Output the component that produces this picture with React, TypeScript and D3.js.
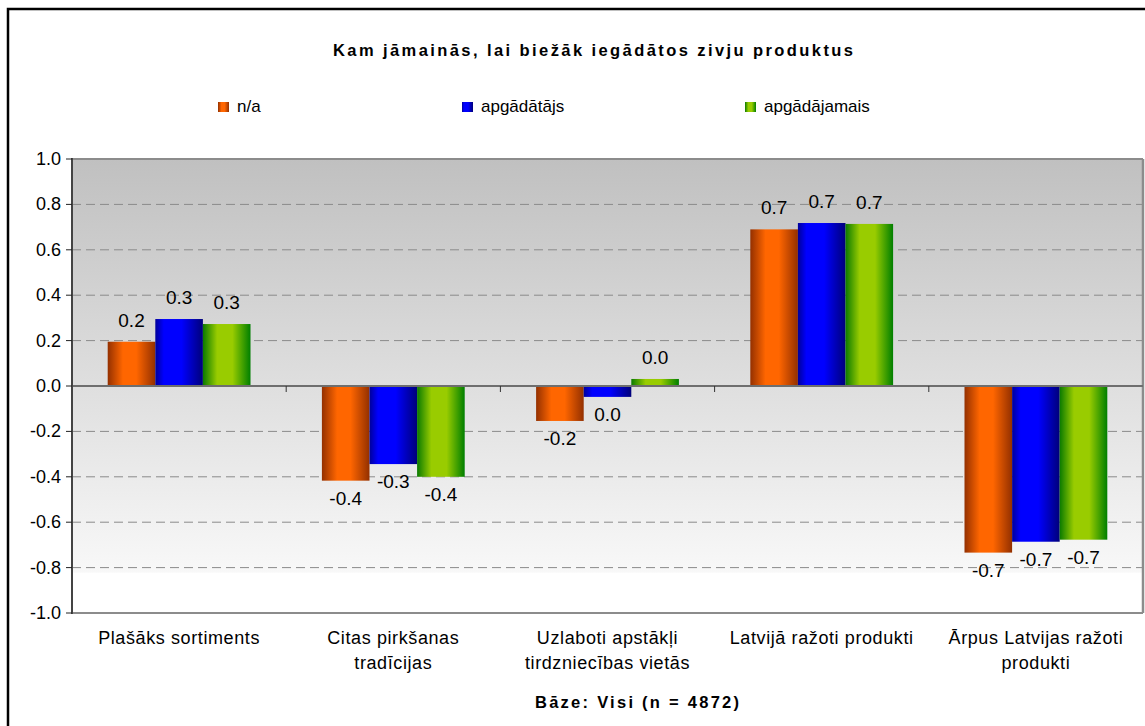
import * as d3 from 'd3';

const categories = [
  ['Plašāks sortiments'],
  ['Citas pirkšanas', 'tradīcijas'],
  ['Uzlaboti apstākļi', 'tirdzniecības vietās'],
  ['Latvijā ražoti produkti'],
  ['Ārpus Latvijas ražoti', 'produkti'],
];
const seriesNames = ['n/a', 'apgādātājs', 'apgādājamais'];
const naValues = [0.195, -0.417, -0.154, 0.69, -0.734];
const apgadatajsValues = [0.295, -0.344, -0.048, 0.718, -0.686];
const apgadajamaisValues = [0.273, -0.4, 0.031, 0.714, -0.677];
const yTicks = [-1, -0.8, -0.6, -0.4, -0.2, 0, 0.2, 0.4, 0.6, 0.8, 1];

const title = 'Kam jāmainās, lai biežāk iegādātos zivju produktus';
const baseTitle = 'Bāze: Visi (n = 4872)';

const gradients = [
  { id: 'gOrange', stops: [['0', '#943000'], ['0.32', '#ff6600'], ['0.6', '#ff6600'], ['1', '#933000']] },
  { id: 'gBlue', stops: [['0', '#00009a'], ['0.18', '#0000ff'], ['0.55', '#0000ff'], ['1', '#00007a']] },
  { id: 'gGreen', stops: [['0', '#0a7a00'], ['0.3', '#99cc00'], ['0.62', '#99cc00'], ['1', '#007f00']] },
];

const font = '"Liberation Sans", Arial, sans-serif';

function fmt(v: number) {
  const s = v.toFixed(1);
  return s === '-0.0' ? '0.0' : s;
}

export default function App() {
  const left = 72;
  const right = 1143;
  const top = 159;
  const bottom = 613;

  const values = [naValues, apgadatajsValues, apgadajamaisValues];
  const catIdx = categories.map((_, i) => String(i));

  const x = d3.scaleBand().domain(catIdx).range([left, right]).padding(0);
  const xs = d3
    .scaleBand()
    .domain(seriesNames)
    .range([0, x.bandwidth()])
    .paddingInner(0)
    .paddingOuter(0.75);
  const y = d3.scaleLinear().domain([-1, 1]).range([bottom, top]);
  const y0 = y(0);

  const legendX = [218, 462, 745];

  return (
    <svg
      width={1145}
      height={726}
      style={{ position: 'absolute', left: 0, top: 0, background: '#fff' }}
      fontFamily={font}
    >
      <defs>
        {gradients.map(g => (
          <linearGradient key={g.id} id={g.id} x1="0" x2="1" y1="0" y2="0">
            {g.stops.map(([o, c]) => (
              <stop key={o} offset={o} stopColor={c} />
            ))}
          </linearGradient>
        ))}
        <linearGradient id="bg" x1="0" x2="0" y1="0" y2="1">
          <stop offset="0" stopColor="#c0c0c0" />
          <stop offset="0.91" stopColor="#f8f8f8" />
          <stop offset="0.912" stopColor="#ffffff" />
          <stop offset="1" stopColor="#ffffff" />
        </linearGradient>
      </defs>

      {/* outer frame */}
      <rect x={8} y={9} width={1150} height={730} fill="none" stroke="#000" strokeWidth={2.5} />

      <text
        x={593}
        y={56}
        textAnchor="middle"
        fontWeight="bold"
        fontSize={16.5}
        textLength={520}
        lengthAdjust="spacing"
      >
        {title}
      </text>

      {/* legend */}
      {seriesNames.map((s, i) => (
        <g key={s}>
          <rect x={legendX[i]} y={102} width={11} height={10} fill={`url(#${gradients[i].id})`} />
          <text x={legendX[i] + 19} y={112} fontSize={17}>
            {s}
          </text>
        </g>
      ))}

      {/* plot area */}
      <rect x={left} y={top} width={right - left} height={bottom - top} fill="url(#bg)" />
      {yTicks
        .filter(t => t !== 0 && Math.abs(t) !== 1)
        .map(t => (
          <line
            key={t}
            x1={left}
            x2={right}
            y1={y(t)}
            y2={y(t)}
            stroke="#8a8a8a"
            strokeWidth={1}
            strokeDasharray="9,5"
          />
        ))}
      <line x1={left} x2={right} y1={top} y2={top} stroke="#8c8c8c" strokeWidth={2} />
      <line x1={right} x2={right} y1={top} y2={bottom} stroke="#8c8c8c" strokeWidth={2.5} />
      <line x1={left} x2={right} y1={bottom} y2={bottom} stroke="#8c8c8c" strokeWidth={2} />

      {/* bars */}
      {values.map((vals, si) =>
        vals.map((v, ci) => {
          const bx = (x(String(ci)) as number) + (xs(seriesNames[si]) as number);
          const by = v >= 0 ? y(v) : y0;
          const h = Math.abs(y(v) - y0);
          return (
            <rect
              key={`${si}-${ci}`}
              x={bx}
              y={by}
              width={xs.bandwidth()}
              height={h}
              fill={`url(#${gradients[si].id})`}
            />
          );
        })
      )}

      {/* zero line with category ticks */}
      <line x1={left} x2={right} y1={y0} y2={y0} stroke="#6e6e6e" strokeWidth={2} />
      {catIdx.slice(1).map(c => (
        <line key={c} x1={x(c)} x2={x(c)} y1={y0} y2={y0 + 6} stroke="#333" strokeWidth={1} />
      ))}

      {/* data labels */}
      {values.map((vals, si) =>
        vals.map((v, ci) => {
          const cx = (x(String(ci)) as number) + (xs(seriesNames[si]) as number) + xs.bandwidth() / 2;
          const ly = v >= 0 ? y(v) - 15 : y(v) + 24;
          return (
            <text key={`l${si}-${ci}`} x={cx} y={ly} textAnchor="middle" fontSize={19} fill="#000">
              {fmt(v)}
            </text>
          );
        })
      )}

      {/* y axis */}
      <line x1={left} x2={left} y1={top - 1} y2={bottom + 1} stroke="#444" strokeWidth={2} />
      {yTicks.map(t => (
        <g key={t}>
          <line x1={left - 6} x2={left} y1={y(t)} y2={y(t)} stroke="#222" strokeWidth={1} />
          <text x={61} y={y(t) + 6} textAnchor="end" fontSize={18}>
            {fmt(t)}
          </text>
        </g>
      ))}

      {/* category labels */}
      {categories.map((lines, ci) => (
        <text
          key={ci}
          x={(x(String(ci)) as number) + x.bandwidth() / 2}
          y={644}
          textAnchor="middle"
          fontSize={18}
          letterSpacing={0.6}
        >
          {lines.map((l, li) => (
            <tspan key={li} x={(x(String(ci)) as number) + x.bandwidth() / 2} dy={li === 0 ? 0 : 25}>
              {l}
            </tspan>
          ))}
        </text>
      ))}

      <text
        x={637}
        y={708}
        textAnchor="middle"
        fontWeight="bold"
        fontSize={16.5}
        textLength={204}
        lengthAdjust="spacing"
      >
        {baseTitle}
      </text>
    </svg>
  );
}
